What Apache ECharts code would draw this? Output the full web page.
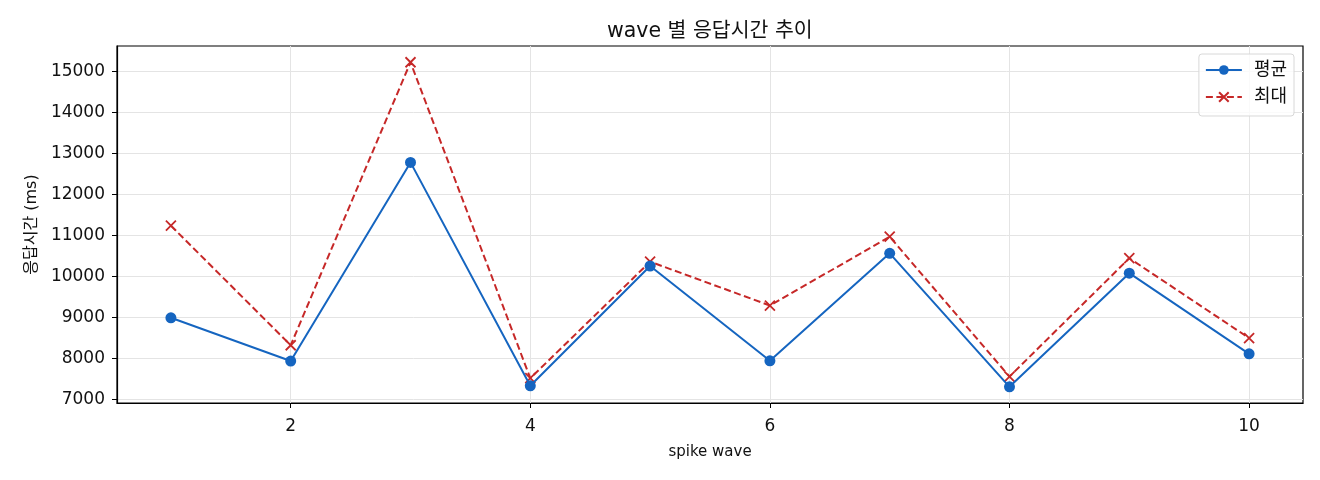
<!DOCTYPE html>
<html>
<head>
<meta charset="utf-8">
<script src="https://cdn.jsdelivr.net/npm/echarts@6/dist/echarts.min.js"></script>
<style>
html,body{margin:0;padding:0;background:#fff;}
#chart{width:1320px;height:480px;}
</style>
</head>
<body>
<div id="chart"></div>
<script>
const waves = [1, 2, 3, 4, 5, 6, 7, 8, 9, 10];
const avgValues = [8985, 7930, 12780, 7325, 10250, 7935, 10560, 7300, 10075, 8105];
const maxValues = [11235, 8315, 15225, 7510, 10355, 9285, 10965, 7550, 10440, 8490];
const xTicks = [2, 4, 6, 8, 10];
const yTicks = [7000, 8000, 9000, 10000, 11000, 12000, 13000, 14000, 15000];

const FONT = "'DejaVu Sans', 'Noto Sans CJK KR', sans-serif";
const BLUE = '#1565c0';
const RED = '#c62828';

const chart = echarts.init(document.getElementById('chart'), null, {renderer: 'canvas'});
const option = {
  backgroundColor: '#ffffff',
  animation: false,
  title: {
    text: 'wave 별 응답시간 추이',
    left: 602,
    top: 16,
    textStyle: {fontFamily: FONT, fontSize: 20.5, fontWeight: 'normal', color: '#111'}
  },
  legend: {
    orient: 'vertical',
    right: 26,
    top: 54,
    padding: [7, 7, 10, 6],
    itemGap: 9,
    itemWidth: 36,
    itemHeight: 12,
    borderColor: '#d8d8d8',
    borderWidth: 1,
    borderRadius: 3,
    backgroundColor: 'rgba(255,255,255,0.8)',
    textStyle: {fontFamily: FONT, fontSize: 18, color: '#111', padding: [0, 0, 0, 7]},
    data: ['평균', '최대']
  },
  grid: {
    left: 117, right: 17, top: 46, bottom: 77,
    show: true, borderColor: '#000', borderWidth: 1.2, containLabel: false
  },
  xAxis: {
    type: 'value',
    min: 0.55, max: 10.45,
    name: 'spike wave',
    nameLocation: 'middle',
    nameGap: 42,
    nameTextStyle: {fontFamily: FONT, fontSize: 15, color: '#111'},
    axisLine: {show: true, onZero: false, lineStyle: {color: '#000', width: 1.2}},
    axisTick: {show: true, customValues: xTicks, length: 5, lineStyle: {color: '#000', width: 1}},
    axisLabel: {customValues: xTicks, fontFamily: FONT, fontSize: 17, color: '#111', margin: 15,
      formatter: v => String(v)},
    splitLine: {show: true, lineStyle: {color: '#e4e4e4', width: 1}}
  },
  yAxis: {
    type: 'value',
    min: 6905, max: 15622,
    name: '응답시간 (ms)',
    nameLocation: 'middle',
    nameGap: 77,
    nameRotate: 90,
    nameTextStyle: {fontFamily: FONT, fontSize: 16, color: '#111'},
    axisLine: {show: true, lineStyle: {color: '#000', width: 1.2}},
    axisTick: {show: true, customValues: yTicks, length: 5, lineStyle: {color: '#000', width: 1}},
    axisLabel: {customValues: yTicks, fontFamily: FONT, fontSize: 17, color: '#111', margin: 12,
      formatter: v => String(v)},
    splitLine: {show: true, lineStyle: {color: '#e4e4e4', width: 1}}
  },
  series: [
    {
      name: '평균',
      type: 'line',
      data: waves.map((w, i) => [w, avgValues[i]]),
      symbol: 'circle',
      symbolSize: 11,
      lineStyle: {color: BLUE, width: 2},
      itemStyle: {color: BLUE},
      z: 3
    },
    {
      name: '최대',
      type: 'line',
      data: waves.map((w, i) => [w, maxValues[i]]),
      symbol: 'path://M0,0 L10,10 M10,0 L0,10',
      symbolSize: 10,
      lineStyle: {color: RED, width: 2, type: [7, 3.5]},
      itemStyle: {color: 'none', borderColor: RED, borderWidth: 1.8},
      z: 2
    }
  ]
};
chart.setOption(option);
</script>
</body>
</html>
